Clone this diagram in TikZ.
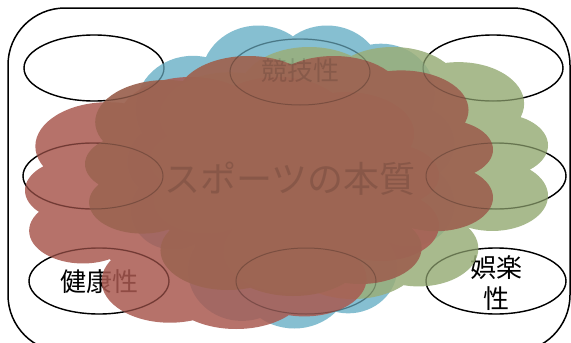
\documentclass[tikz,border=0pt]{standalone}
\usepackage{fontspec}
\setmainfont{Noto Sans CJK JP}
\usetikzlibrary{shapes.geometric}
\definecolor{cblue}{HTML}{71B4C9}
\definecolor{cgreen}{HTML}{99AE79}
\definecolor{cred}{HTML}{A95950}
\definecolor{cdark}{HTML}{9D6553}
% cloud: colour, opacity, centre x, centre y, width, height
\newcommand\cloudblob[6]{%
  \begin{scope}[shift={(#3,#4)}, xscale=#5/2, yscale=#6/2]
    \fill[#1, fill opacity=#2]
      (-0.60,-0.45) circle (0.35)
      (-0.20,-0.65) circle (0.35)
      (0.22,-0.66) circle (0.34)
      (0.55,-0.55) circle (0.33)
      (0.75,-0.22) circle (0.25)
      (0.72,0.18) circle (0.28)
      (0.35,0.60) circle (0.30)
      (0.02,0.65) circle (0.35)
      (-0.30,0.62) circle (0.33)
      (-0.72,0.22) circle (0.26)
      (-0.75,-0.10) circle (0.25)
      (0,0) circle (0.74);
  \end{scope}}
\begin{document}
\begin{tikzpicture}[x=1pt,y=-1pt,
  oval/.style={draw=black, line width=1.4pt, ellipse, minimum width=140pt, minimum height=66pt, inner sep=0pt},
  faintline/.style={draw=black, draw opacity=0.22, line width=1pt},
  jtext/.style={font=\fontsize{26}{31}\selectfont, inner sep=0pt, align=center},
  faintt/.style={text opacity=0.13}]
\useasboundingbox (0,0) rectangle (571,343);
\clip (0,0) rectangle (571,343);
\draw[line width=1.5pt, rounded corners=57pt] (8,8) rectangle (570,352);
% ovals
\node[oval] (e1) at (94,68) {};
\node[oval] (e2) at (300,72) {};
\node[oval] (e3) at (493,68) {};
\node[oval] (e4) at (93,176) {};
\node[oval] (e5) at (496,176) {};
\node[oval] (e6) at (99,281) {};
\node[jtext] (t6) at (99,282) {健康性};
\node[oval] (e7) at (306,281) {};
\node[oval] (e8) at (496,281) {};
\node[jtext] (t8) at (496,283) {娯楽\\性};
% clouds
\cloudblob{cblue}{0.85}{291}{177}{327}{303}
\cloudblob{cgreen}{0.85}{349}{173}{398}{252}
\cloudblob{cred}{0.85}{232}{203}{414}{252}
\cloudblob{cdark}{0.95}{289}{176}{408}{240}
% faint overlay
\foreach \e in {e1,e2,e3,e4,e5,e6,e7,e8}
  \draw[faintline] (\e.center) ellipse [x radius=70pt, y radius=33pt];
\node[jtext, faintt] (t2) at (300,71) {競技性};
\node[jtext, faintt, font=\fontsize{36}{40}\selectfont] (tc) at (290,179) {スポーツの本質};
\end{tikzpicture}
\end{document}
